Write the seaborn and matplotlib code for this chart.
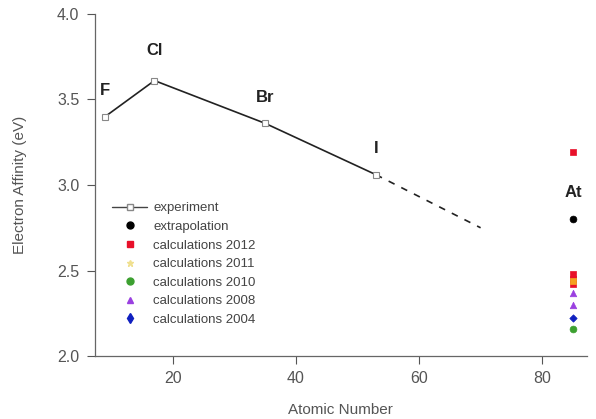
import matplotlib
matplotlib.use("Agg")
import matplotlib.pyplot as plt
import seaborn as sns
import pandas as pd
from matplotlib.lines import Line2D

sns.set_style("ticks")
plt.rcParams['font.family'] = ['Liberation Sans', 'DejaVu Sans']

# experiment data
exp_z = [9, 17, 35, 53]
exp_ea = [3.40, 3.61, 3.36, 3.06]
elements = ["F", "Cl", "Br", "I"]
# extrapolated trend (dashed)
trend_z = [53, 70]
trend_ea = [3.06, 2.75]
# astatine
at_z = 85
extrap_ea = [2.80]
calc2012_ea = [3.19, 2.48, 2.45, 2.42]
calc2011_ea = [2.44]
calc2010_ea = [2.16]
calc2008_ea = [2.37, 2.30]
calc2004_ea = [2.22]

fig = plt.figure(figsize=(5.96, 4.19), dpi=100)
ax = fig.add_axes([0.159, 0.150, 0.826, 0.817])

gray = "#555555"
df_exp = pd.DataFrame({"z": exp_z, "ea": exp_ea})
sns.lineplot(data=df_exp, x="z", y="ea", ax=ax, color="#222222", lw=1.2,
             marker="s", markersize=5, markerfacecolor="white",
             markeredgecolor="#888888", markeredgewidth=0.8, zorder=3)
df_tr = pd.DataFrame({"z": trend_z, "ea": trend_ea})
sns.lineplot(data=df_tr, x="z", y="ea", ax=ax, color="#222222", lw=1.2,
             linestyle=(0, (4, 4.5)), zorder=2)

def sc(vals, color, marker, size, ec=None):
    d = pd.DataFrame({"z": [at_z] * len(vals), "ea": vals})
    sns.scatterplot(data=d, x="z", y="ea", ax=ax, color=color, marker=marker,
                    s=size, edgecolor=ec if ec else color, linewidth=0.5, zorder=4)

sc(extrap_ea, "black", "o", 24)
sc(calc2012_ea, "#e8102a", "s", 24)
sc(calc2011_ea, "#f5a020", "s", 14)
sc(calc2010_ea, "#3ca030", "o", 24)
sc(calc2008_ea, "#9a40e0", "^", 22)
sc(calc2004_ea, "#1020c0", "D", 14)

# element labels
for z, ea, el in zip(exp_z, exp_ea, elements):
    dy = 0.11 if el != "Cl" else 0.13
    ax.text(z, ea + dy, el, ha="center", va="bottom", fontsize=12,
            fontweight="bold", color="#222222")
ax.text(at_z, extrap_ea[0] + 0.11, "At", ha="center", va="bottom",
        fontsize=12, fontweight="bold", color="#222222")

ax.set_xlim(7.3, 87.3)
ax.set_ylim(2.0, 4.0)
ax.set_xticks([20, 40, 60, 80])
ax.set_yticks([2.0, 2.5, 3.0, 3.5, 4.0])
ax.set_yticklabels(["2.0", "2.5", "3.0", "3.5", "4.0"])
ax.set_xlabel("Atomic Number", fontsize=11, color=gray, labelpad=12)
ax.set_ylabel("Electron Affinity (eV)", fontsize=11, color=gray, labelpad=22)
ax.tick_params(colors=gray, labelsize=11.5, length=6, width=0.8, pad=5)
for s in ["top", "right"]:
    ax.spines[s].set_visible(False)
for s in ["left", "bottom"]:
    ax.spines[s].set_color("#666666")
    ax.spines[s].set_linewidth(0.9)

handles = [
    Line2D([], [], color="#444444", lw=1, marker="s", markersize=5,
           markerfacecolor="white", markeredgecolor="#888888"),
    Line2D([], [], ls="", marker="o", color="black", markersize=5),
    Line2D([], [], ls="", marker="s", color="#e8102a", markersize=5),
    Line2D([], [], ls="", marker="*", color="#f0e090", markersize=5),
    Line2D([], [], ls="", marker="o", color="#3ca030", markersize=5),
    Line2D([], [], ls="", marker="^", color="#9a40e0", markersize=5),
    Line2D([], [], ls="", marker="d", color="#1020c0", markersize=5),
]
labels = ["experiment", "extrapolation", "calculations 2012", "calculations 2011",
          "calculations 2010", "calculations 2008", "calculations 2004"]
leg = ax.legend(handles, labels, loc="upper left", bbox_to_anchor=(0.025, 0.465),
                frameon=False, fontsize=9.5, handlelength=2.6, handletextpad=0.5,
                labelspacing=0.48, borderaxespad=0)
for t in leg.get_texts():
    t.set_color("#444444")

fig.savefig("out.png", dpi=100)
